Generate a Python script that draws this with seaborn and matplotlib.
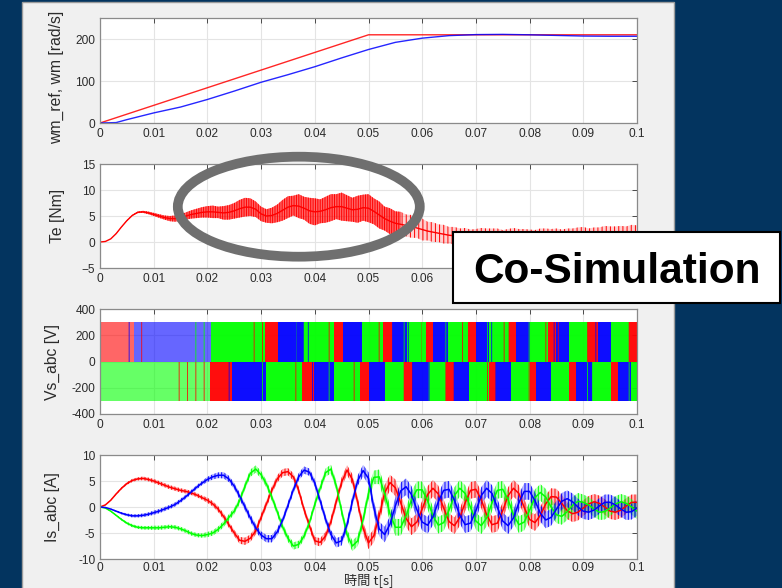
import numpy as np
import matplotlib
matplotlib.use("Agg")
import matplotlib.pyplot as plt
import seaborn as sns
from matplotlib.patches import Rectangle, Ellipse

# ---------------- data ----------------
# common sample times for Te and Is (1 ms steps)
t = np.round(np.arange(101) * 0.001, 3)

xtick_vals = [0, 0.01, 0.02, 0.03, 0.04, 0.05, 0.06, 0.07, 0.08, 0.09, 0.1]
xtick_labels = ["0", "0.01", "0.02", "0.03", "0.04", "0.05", "0.06", "0.07", "0.08", "0.09", "0.1"]

# speed reference and measured speed [rad/s]
wm_ref_t = [0, 0.05, 0.1]
wm_ref = [0, 210, 210]
wm_t = [0, 0.003, 0.005, 0.01, 0.015, 0.02, 0.025, 0.03, 0.035, 0.04, 0.045, 0.05,
        0.055, 0.06, 0.065, 0.07, 0.075, 0.08, 0.085, 0.09, 0.095, 0.1]
wm = [0, 1, 8, 24, 38, 56, 76, 97, 115, 134, 155, 175,
      192, 202, 208, 210.5, 211, 210, 208.5, 207, 206.5, 206.5]

# torque Te [Nm]: mean value and ripple half width
te_mean = [0, 0.1, 0.6, 1.6, 2.9, 4.1, 5.1, 5.7, 5.8, 5.6,
           5.3, 5.0, 4.7, 4.5, 4.5, 4.7, 5.0, 5.3, 5.5, 5.7,
           5.8, 5.8, 5.7, 5.6, 5.7, 6.0, 6.4, 6.7, 6.7, 6.3,
           5.4, 5.0, 5.1, 5.5, 6.1, 6.7, 7.0, 6.9, 6.5, 6.0,
           5.8, 5.9, 6.2, 6.6, 6.8, 6.8, 6.5, 6.2, 6.3, 6.6,
           6.5, 5.9, 5.2, 4.5, 4.0, 3.6, 3.4, 3.2, 3.0, 2.7,
           2.4, 2.1, 1.9, 1.7, 1.5, 1.3, 1.2, 1.1, 1.0, 0.9,
           0.9, 1.0, 1.1, 1.0, 0.9, 0.8, 0.9, 1.0, 1.0, 0.9,
           0.8, 0.8, 0.9, 1.0, 1.0, 0.9, 0.8, 0.8, 0.9, 1.0,
           1.0, 0.9, 0.9, 1.0, 1.1, 1.1, 1.0, 1.0, 1.1, 1.2, 1.2]
te_ripple = [0, 0, 0, 0.05, 0.05, 0.1, 0.1, 0.15, 0.2, 0.25,
             0.3, 0.35, 0.4, 0.5, 0.6, 0.6, 0.7, 0.8, 0.9, 1.0,
             1.1, 1.2, 1.1, 1.3, 1.4, 1.5, 1.7, 1.8, 1.7, 1.5,
             1.4, 1.3, 1.5, 1.7, 2.0, 2.1, 1.9, 2.3, 2.2, 2.5,
             2.6, 2.3, 2.5, 2.6, 2.4, 2.7, 2.5, 2.3, 2.6, 2.5,
             2.7, 2.5, 2.6, 2.3, 2.5, 2.3, 2.4, 2.1, 2.2, 1.9,
             2.1, 1.8, 1.9, 1.7, 1.8, 1.6, 1.7, 1.5, 1.7, 1.5,
             1.6, 1.7, 1.5, 1.6, 1.7, 1.5, 1.6, 1.7, 1.5, 1.6,
             1.6, 1.5, 1.7, 1.6, 1.5, 1.7, 1.6, 1.8, 1.7, 1.8,
             1.9, 1.7, 1.9, 1.8, 2.0, 1.9, 2.0, 2.1, 1.9, 2.1, 2.0]

# inverter phase voltages: colour blocks of the positive and negative band [V]
vs_amp = 300
vs_upper_edges = [0, 0.0063, 0.0206, 0.0307, 0.0332, 0.0379, 0.0435, 0.0453, 0.0488, 0.0527,
                  0.0543, 0.0571, 0.0608, 0.0620, 0.0648, 0.0685, 0.0700, 0.0725, 0.0759,
                  0.0775, 0.0800, 0.0834, 0.0849, 0.0874, 0.0908, 0.0927, 0.0951, 0.0985, 0.1]
vs_upper_phase = ["a", "b", "c"] * 9 + ["a"]
vs_lower_edges = [0, 0.0205, 0.0245, 0.0309, 0.0376, 0.0398, 0.0435, 0.0485, 0.0500, 0.0530,
                  0.0567, 0.0583, 0.0614, 0.0645, 0.0660, 0.0688, 0.0725, 0.0737, 0.0765,
                  0.0800, 0.0812, 0.0840, 0.0874, 0.0886, 0.0917, 0.0951, 0.0964, 0.0989, 0.1]
vs_lower_phase = ["c", "a", "b"] * 9 + ["c"]

# phase currents Is_abc [A]
is_a = [0, 0.4, 1.3, 2.5, 3.6, 4.5, 5.1, 5.4, 5.5, 5.3,
        5.0, 4.6, 4.2, 3.8, 3.5, 3.2, 3.0, 2.7, 2.3, 1.8,
        1.3, 0.6, -0.4, -1.8, -3.4, -5.0, -6.4, -6.6, -6.0, -4.6,
        -2.0, 0.6, 3.2, 5.4, 6.6, 6.8, 5.8, 3.2, -0.5, -3.6,
        -6.5, -6.8, -5.6, -2.8, 1.0, 4.8, 7.1, 5.3, 0.8, -4.1,
        -6.9, -5.5, -1.7, 2.7, 4.7, 3.7, 0.8, -2.2, -3.8, -2.9,
        -0.4, 2.4, 3.6, 2.5, -0.2, -2.8, -3.6, -2.0, 0.8, 3.2,
        3.4, 1.4, -1.5, -3.4, -3.1, -0.7, 2.2, 3.6, 2.6, -0.1,
        -2.4, -3.0, -1.6, 0.6, 2.0, 1.9, 0.7, -0.7, -1.3, -1.0,
        -0.2, 0.6, 1.0, 0.7, 0.0, -0.8, -1.0, -0.6, 0.2, 0.9, 0.9]
is_b = [0, -0.1, -0.4, -0.8, -1.2, -1.5, -1.7, -1.7, -1.6, -1.4,
        -1.1, -0.8, -0.4, 0.0, 0.5, 1.2, 2.0, 2.9, 3.8, 4.6,
        5.3, 5.8, 6.1, 6.1, 5.4, 4.0, 2.1, 0.0, -2.1, -4.0,
        -5.4, -6.1, -6.1, -4.8, -2.6, 0.3, 3.3, 5.8, 7.1, 6.7,
        4.6, 1.2, -2.3, -5.3, -6.9, -6.5, -3.4, 1.1, 5.1, 7.0,
        5.5, -0.2, -4.2, -5.3, -3.3, 0.2, 3.1, 3.9, 2.4, -0.5,
        -2.9, -3.5, -1.9, 1.0, 3.2, 3.4, 1.3, -1.6, -3.4, -3.1,
        -0.7, 2.2, 3.6, 2.6, -0.1, -2.7, -3.6, -2.1, 0.8, 3.0,
        3.0, 1.2, -1.2, -2.5, -2.0, -0.4, 1.1, 1.6, 1.0, 0.0,
        -0.8, -1.0, -0.6, 0.2, 0.9, 0.9, 0.4, -0.4, -1.0, -0.9, -0.2]
is_c = [0, -0.2, -0.8, -1.6, -2.4, -3.1, -3.6, -3.9, -4.0, -4.0,
        -4.0, -4.0, -3.9, -3.8, -3.9, -4.2, -4.6, -5.1, -5.4, -5.5,
        -5.3, -5.0, -4.3, -3.3, -2.0, -0.8, 1.2, 4.0, 6.5, 7.3,
        6.2, 4.4, 1.9, -0.9, -3.8, -6.0, -7.5, -7.2, -5.6, -3.0,
        0.5, 3.6, 6.6, 7.3, 4.1, -0.8, -5.3, -7.5, -6.5, -2.4,
        2.6, 5.7, 5.8, 2.6, -1.3, -3.9, -3.9, -1.7, 1.4, 3.3,
        3.3, 1.2, -1.7, -3.5, -3.0, -0.6, 2.2, 3.6, 2.6, -0.1,
        -2.7, -3.6, -2.1, 0.8, 3.2, 3.4, 1.4, -1.5, -3.4, -2.9,
        -0.6, 1.8, 2.8, 1.9, 0.0, -1.5, -1.8, -0.9, 0.3, 1.1,
        0.9, 0.4, -0.4, -1.0, -0.9, -0.2, 0.6, 1.0, 0.7, 0.0, -0.8]
is_ripple = [0.05, 0.05, 0.1, 0.15, 0.2, 0.25, 0.3, 0.3, 0.35, 0.35,
             0.4, 0.4, 0.4, 0.4, 0.4, 0.4, 0.4, 0.4, 0.4, 0.4,
             0.5, 0.5, 0.55, 0.6, 0.6, 0.6, 0.65, 0.7, 0.7, 0.7,
             0.7, 0.7, 0.7, 0.7, 0.7, 0.7, 0.7, 0.7, 0.7, 0.7,
             0.75, 0.8, 0.8, 0.85, 0.9, 0.9, 0.95, 1.0, 1.0, 1.1,
             1.2, 1.3, 1.4, 1.5, 1.5, 1.6, 1.6, 1.6, 1.6, 1.6,
             1.6, 1.6, 1.6, 1.6, 1.6, 1.6, 1.6, 1.6, 1.6, 1.6,
             1.6, 1.6, 1.6, 1.6, 1.6, 1.6, 1.6, 1.6, 1.6, 1.6,
             1.6, 1.6, 1.6, 1.6, 1.6, 1.6, 1.6, 1.6, 1.6, 1.6,
             1.5, 1.5, 1.5, 1.5, 1.5, 1.5, 1.5, 1.5, 1.5, 1.5, 1.5]

# ---------------- styling ----------------
sns.set_theme(style="white")
plt.rcParams["font.family"] = ["Liberation Sans", "Noto Sans CJK JP", "DejaVu Sans"]
plt.rcParams["hatch.linewidth"] = 0.7

RED, BLUE, GREEN = "#ff0000", "#0000ff", "#00ff00"
phase_color = {"a": RED, "b": BLUE, "c": GREEN}
TXT = "#2b2b2b"

W, H = 782, 588
fig = plt.figure(figsize=(W / 100, H / 100), dpi=100, facecolor="#03345f")

# grey MATLAB figure panel
fig.add_artist(Rectangle((22 / W, -0.02), (674 - 22) / W, 1 - 2 / H + 0.02,
                         transform=fig.transFigure, facecolor="#f0f0f0",
                         edgecolor="#9c9c9c", lw=1.0, zorder=-5))


def px_axes(top, bottom):
    left, right = 100, 637
    return fig.add_axes([left / W, 1 - bottom / H, (right - left) / W, (bottom - top) / H])


def style(ax, ylim, yticks, ylabels, ylabel, lab_x, lab_y=0.5, xlabels=xtick_labels, pad=3.5):
    ax.set_facecolor("white")
    ax.set_xlim(0, 0.1)
    ax.set_ylim(*ylim)
    ax.set_xticks(xtick_vals)
    ax.set_xticklabels(xlabels)
    ax.set_yticks(yticks)
    ax.set_yticklabels(ylabels)
    ax.grid(True, color="#e4e4e4", lw=0.8)
    ax.set_axisbelow(True)
    ax.tick_params(direction="in", top=True, right=True, length=3.5, width=0.7,
                   color="#4a4a4a", labelsize=8.6, labelcolor=TXT, pad=3.5)
    ax.tick_params(axis="x", pad=pad)
    for s in ax.spines.values():
        s.set_color("#8a8a8a")
        s.set_linewidth(0.9)
    ax.set_ylabel(ylabel, fontsize=11.3, color=TXT)
    ax.yaxis.set_label_coords(lab_x, lab_y)
    ax.set_xlabel("")


# ---- 1: speed ----
ax1 = px_axes(18, 123)
sns.lineplot(x=wm_ref_t, y=wm_ref, ax=ax1, color=RED, lw=1.0, alpha=0.85)
sns.lineplot(x=wm_t, y=wm, ax=ax1, color=BLUE, lw=1.0, alpha=0.85)
style(ax1, (0, 250), [0, 100, 200], ["0", "100", "200"], "wm_ref, wm [rad/s]", -0.067, 0.43)

# ---- 2: torque ----
ax2 = px_axes(164, 268)
te_lo = np.array(te_mean) - np.array(te_ripple)
te_hi = np.array(te_mean) + np.array(te_ripple)
dense = t <= 0.056
ax2.fill_between(t[dense], te_lo[dense], te_hi[dense], facecolor=(1, 0, 0, 0.6),
                 edgecolor=RED, hatch="|||||||", lw=0)
sparse = t >= 0.056
ax2.fill_between(t[sparse], te_lo[sparse], te_hi[sparse], facecolor=(1, 0, 0, 0.18),
                 edgecolor=RED, hatch="||||", lw=0)
sns.lineplot(x=t, y=te_mean, ax=ax2, color=RED, lw=1.0)
te_xlabels = xtick_labels[:7] + [""] * 4      # the rest lie under the Co-Simulation box
style(ax2, (-5, 15), [-5, 0, 5, 10, 15], ["\u22125", "0", "5", "10", "15"], "Te [Nm]", -0.065,
      xlabels=te_xlabels)

# ---- 3: phase voltages (PWM colour blocks with switching stripes) ----
ax3 = px_axes(309, 414)


def pwm_band(edges, phases, y0, y1):
    n = len(phases)
    for i, ph in enumerate(phases):
        x0, x1 = edges[i], edges[i + 1]
        early = x1 <= 0.021
        ax3.fill_between([x0, x1], y0, y1, color=phase_color[ph],
                         alpha=0.6 if early else 0.95, lw=0)
        span = x1 - x0
        # switching stripes of the neighbouring phases near each transition
        if i + 1 < n:
            ax3.fill_between([x1 - 0.3 * span, x1], y0, y1, facecolor="none",
                             edgecolor=phase_color[phases[i + 1]], hatch="||", lw=0,
                             alpha=0.8)
        if i > 0:
            ax3.fill_between([x0, x0 + 0.2 * span], y0, y1, facecolor="none",
                             edgecolor=phase_color[phases[i - 1]], hatch="|", lw=0,
                             alpha=0.8)


pwm_band(vs_upper_edges, vs_upper_phase, 0, vs_amp)
pwm_band(vs_lower_edges, vs_lower_phase, -vs_amp, 0)
style(ax3, (-400, 400), [-400, -200, 0, 200, 400],
      ["-400", "-200", "0", "200", "400"], "Vs_abc [V]", -0.074)

# ---- 4: phase currents ----
ax4 = px_axes(455, 559)
rip = np.array(is_ripple)
for vals, col in [(is_a, RED), (is_c, GREEN), (is_b, BLUE)]:
    v = np.array(vals)
    ax4.fill_between(t, v - rip, v + rip, facecolor=matplotlib.colors.to_rgba(col, 0.25),
                     edgecolor=col, hatch="|||||", lw=0)
    sns.lineplot(x=t, y=vals, ax=ax4, color=col, lw=1.1)
style(ax4, (-10, 10), [-10, -5, 0, 5, 10], ["-10", "-5", "0", "5", "10"], "Is_abc [A]", -0.074,
      pad=2.5)
# x-axis title sits at the very bottom edge of the picture
fig.text(368.5 / W, 1.0 / H, "時間 t[s]", fontsize=9.5, color=TXT, ha="center", va="bottom",
         family=["Noto Sans CJK JP", "DejaVu Sans"])

# ---- overlays ----
fig.add_artist(Ellipse((298.8 / W, 1 - 206.7 / H), 242 / W, 100 / H,
                       transform=fig.transFigure, facecolor="none",
                       edgecolor="#6f6f6f", lw=7.0, zorder=20))
fig.add_artist(Rectangle((453 / W, 1 - 303 / H), (780 - 453) / W, (303 - 232) / H,
                         transform=fig.transFigure, facecolor="white",
                         edgecolor="black", lw=1.5, zorder=21))
fig.text(473 / W, 1 - 283 / H, "Co-Simulation", fontsize=30.5, fontweight="bold",
         family=["Liberation Sans", "DejaVu Sans"], color="black",
         ha="left", va="baseline", zorder=22)

fig.savefig("out.png", dpi=100, facecolor=fig.get_facecolor())
